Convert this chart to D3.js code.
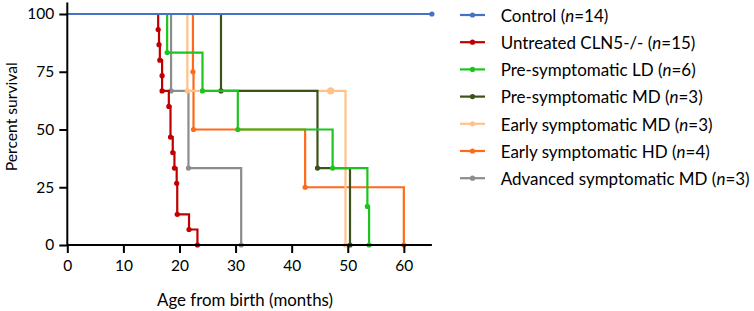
<!DOCTYPE html>
<html><head><meta charset="utf-8">
<script src="https://cdn.jsdelivr.net/npm/d3@7"></script>
<style>body{margin:0;background:#fff}svg{display:block}</style>
</head><body>
<svg id="c" width="754" height="311"></svg>
<script>
const categories = ["Control", "Untreated CLN5-/-", "Pre-symptomatic LD", "Pre-symptomatic MD", "Early symptomatic MD", "Early symptomatic HD", "Advanced symptomatic MD"];
const groupN = [14, 15, 6, 3, 3, 4, 3];
const colors = ["#4472C4", "#C00000", "#1EC41E", "#3A5418", "#FFC28A", "#FF6A1A", "#8C8C8C"];
// event times (months) and survival (%) after each event; censored flags
const controlTimes = [65];             const controlSurv = [100];           const controlCens = [1];
const untreatedTimes = [16.2, 16.35, 16.5, 16.9, 16.9, 18.1, 18.4, 18.8, 19.1, 19.5, 19.6, 21.7, 23.2];
const untreatedSurv  = [93.3, 86.7, 80, 73.3, 66.7, 60, 46.7, 40, 33.3, 26.7, 13.3, 6.7, 0];
const untreatedCens  = [0,0,0,0,0,0,0,0,0,0,0,0,0];
const preLDTimes = [17.8, 24.1, 30.4, 47.3, 53.5, 53.8]; const preLDSurv = [83.3, 66.7, 50, 33.3, 16.7, 0]; const preLDCens = [0,0,0,0,0,0];
const preMDTimes = [27.4, 44.6, 50.4]; const preMDSurv = [66.7, 33.3, 0]; const preMDCens = [0,0,0];
const earlyMDTimes = [21.4, 46.95, 49.6]; const earlyMDSurv = [66.7, 66.7, 0]; const earlyMDCens = [0,1,0];
const earlyHDTimes = [22.4, 22.5, 42.4, 60.0]; const earlyHDSurv = [75, 50, 25, 0]; const earlyHDCens = [0,0,0,0];
const advMDTimes = [18.5, 21.6, 31.0]; const advMDSurv = [66.7, 33.3, 0]; const advMDCens = [0,0,0];
const xTicks = [0, 10, 20, 30, 40, 50, 60];
const yTicks = [0, 25, 50, 75, 100];

const seriesTimes = [controlTimes, untreatedTimes, preLDTimes, preMDTimes, earlyMDTimes, earlyHDTimes, advMDTimes];
const seriesSurv = [controlSurv, untreatedSurv, preLDSurv, preMDSurv, earlyMDSurv, earlyHDSurv, advMDSurv];
const seriesCens = [controlCens, untreatedCens, preLDCens, preMDCens, earlyMDCens, earlyHDCens, advMDCens];

const series = categories.map((c, i) => ({
  name: c, n: groupN[i], color: colors[i],
  pts: seriesTimes[i].map((t, j) => ({t, s: seriesSurv[i][j], c: seriesCens[i][j]}))
}));

const svg = d3.select("#c");
const x = d3.scaleLinear().domain([0, 65]).range([67.3, 431.9]);
const y = d3.scaleLinear().domain([0, 100]).range([245, 14]);
const FONT = "Lato, 'Open Sans', sans-serif";

function fitSize(sel, target) {
  sel.attr("font-size", 20);
  const w = sel.node().getComputedTextLength();
  const fs = 20 * target / w;
  sel.attr("font-size", fs);
  return fs;
}

function stepPath(pts) {
  let d = `M${x(0)},${y(100)}`;
  pts.forEach(p => { d += `H${x(p.t)}V${y(p.s)}`; });
  return d;
}

const order = [6, 5, 4, 3, 2, 1, 0];
const g = svg.append("g");
order.forEach(i => {
  const s = series[i];
  g.append("path").attr("d", stepPath(s.pts)).attr("fill", "none")
    .attr("stroke", s.color).attr("stroke-width", 2.2).attr("stroke-linejoin", "miter");
  g.selectAll(null).data(s.pts).enter().append("circle")
    .attr("cx", d => x(d.t)).attr("cy", d => y(d.s))
    .attr("r", d => d.c && i !== 0 ? 3.6 : 2.6).attr("fill", s.color);
});

// axes
const xAxis = svg.append("g").attr("transform", `translate(0,${y(0)})`)
  .call(d3.axisBottom(x).tickValues(xTicks).tickSize(8).tickPadding(7).tickFormat(d3.format("d")));
const yAxis = svg.append("g").attr("transform", `translate(${x(0)},0)`)
  .call(d3.axisLeft(y).tickValues(yTicks).tickSize(8).tickPadding(5).tickFormat(d3.format("d")));
[xAxis, yAxis].forEach(a => {
  a.select(".domain").remove();
  a.selectAll(".tick line").attr("stroke", "#000").attr("stroke-width", 2);
  a.selectAll(".tick text").attr("font-family", FONT).attr("font-size", 15.5).attr("fill", "#000");
});
svg.append("line").attr("x1", x(0)).attr("x2", x(65)).attr("y1", y(0)).attr("y2", y(0)).attr("stroke", "#000").attr("stroke-width", 2);
svg.append("line").attr("x1", x(0)).attr("x2", x(0)).attr("y1", y(0)+1).attr("y2", y(105)).attr("stroke", "#000").attr("stroke-width", 2);

const xt = svg.append("text").attr("x", 245).attr("y", 306).attr("text-anchor", "middle")
  .attr("font-family", FONT).text("Age from birth (months)");
fitSize(xt, 176);
const yt = svg.append("text").attr("transform", `translate(17,116.7) rotate(-90)`).attr("text-anchor", "middle")
  .attr("font-family", FONT).text("Percent survival");
fitSize(yt, 109);

// legend
const leg = svg.append("g");
const texts = [];
series.forEach((s, i) => {
  const yy = 15 + i * 27.2;
  leg.append("line").attr("x1", 460).attr("x2", 485).attr("y1", yy).attr("y2", yy).attr("stroke", s.color).attr("stroke-width", 2.2);
  leg.append("circle").attr("cx", 472.5).attr("cy", yy).attr("r", 2.6).attr("fill", s.color);
  const t = leg.append("text").attr("x", 500.7).attr("y", yy + 6.8).attr("font-family", FONT).attr("fill", "#000");
  t.append("tspan").text(s.name + " (");
  t.append("tspan").attr("font-style", "italic").text("n");
  t.append("tspan").text("=" + s.n + ")");
  texts.push(t);
});
const fs = fitSize(texts[6], 249);
texts.forEach(t => t.attr("font-size", fs));
</script>
</body></html>
